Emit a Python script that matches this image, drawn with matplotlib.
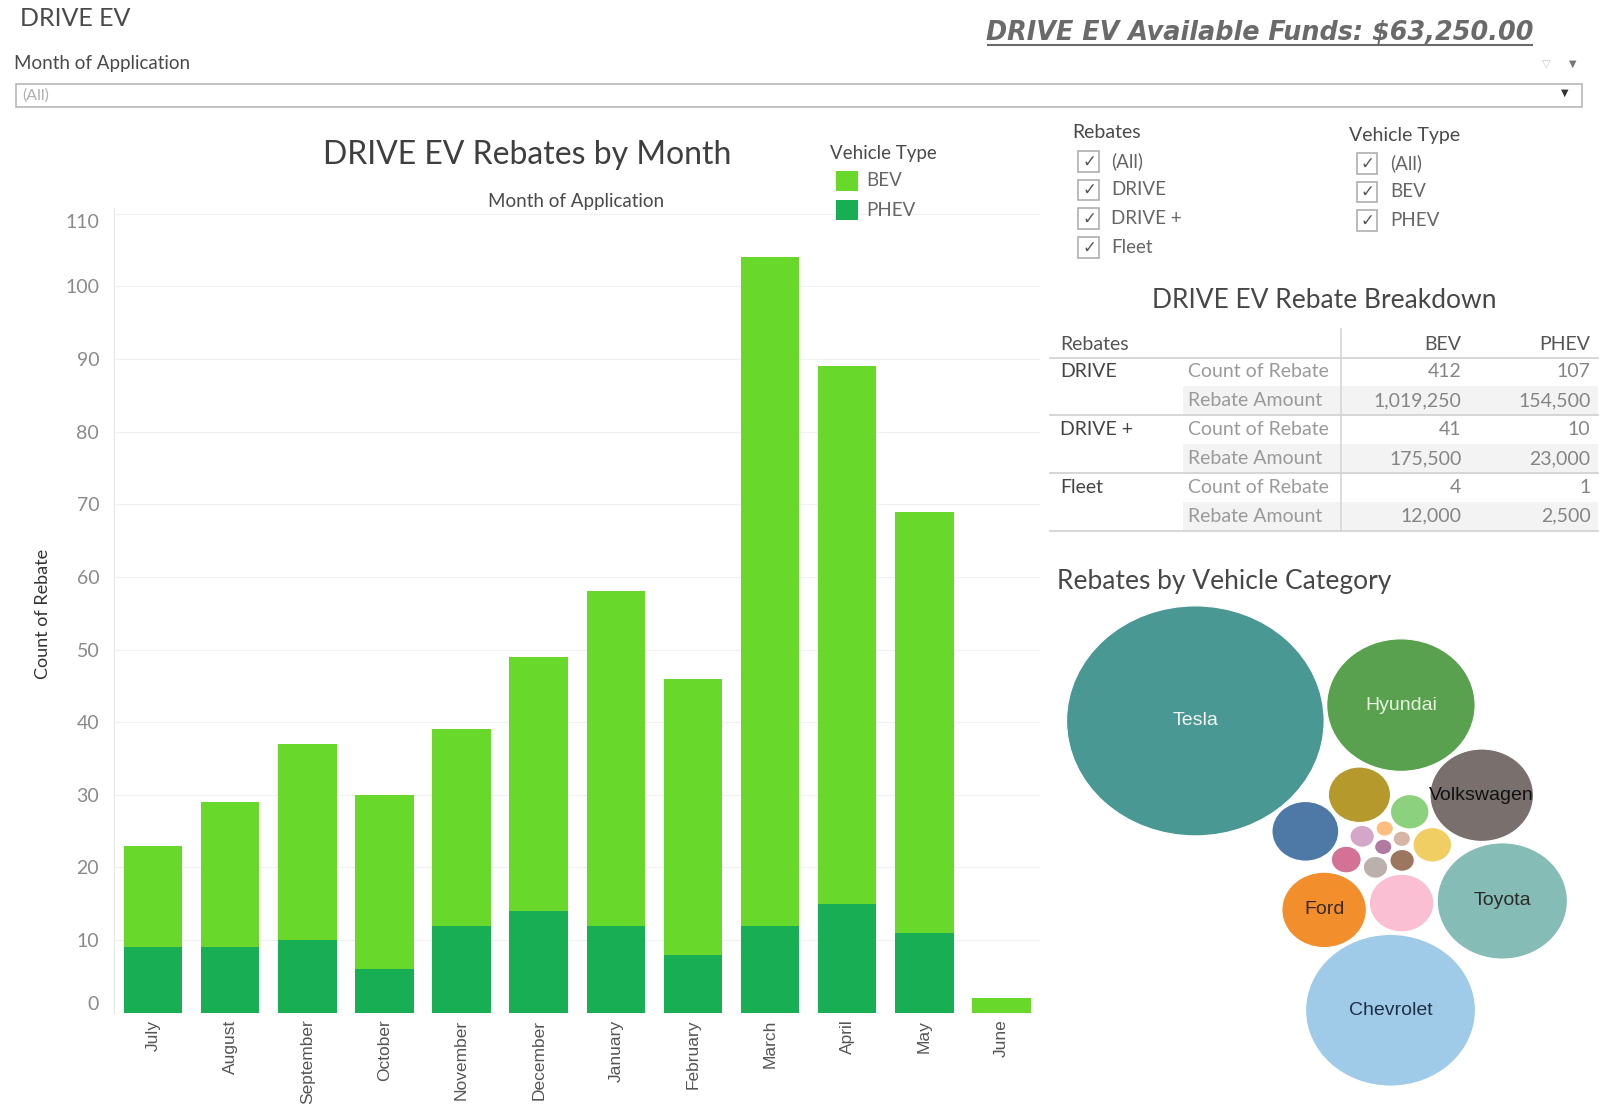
import numpy as np
import matplotlib
matplotlib.use("Agg")
import matplotlib.pyplot as plt
from matplotlib.patches import Rectangle, Ellipse

W, H = 1606, 1108

# -------------------------
# Data
# -------------------------
months = ["July", "August", "September", "October", "November", "December",
          "January", "February", "March", "April", "May", "June"]
phev_counts = [9, 9, 10, 6, 12, 14, 12, 8, 12, 15, 11, 0]
bev_counts = [14, 20, 27, 24, 27, 35, 46, 38, 92, 74, 58, 2]
y_ticks = list(range(0, 111, 10))

rebate_filters = ["(All)", "DRIVE", "DRIVE +", "Fleet"]
vehicle_filters = ["(All)", "BEV", "PHEV"]

table_rebates = ["DRIVE", "DRIVE +", "Fleet"]
bev_rebate_count = [412, 41, 4]
phev_rebate_count = [107, 10, 1]
bev_rebate_amount = [1019250, 175500, 12000]
phev_rebate_amount = [154500, 23000, 2500]

available_funds = 63250.00

# vehicle makes, biggest first; small ones have no label in the dashboard
make_names = ["Tesla", "Chevrolet", "Hyundai", "Toyota", "Volkswagen", "Ford",
              "", "", "", "", "", "", "", "", "", "", "", ""]
make_counts = [223, 97, 74, 57, 36, 24, 15, 14, 13, 5, 5, 3, 2, 2, 2, 1, 1, 1]

# -------------------------
# Styles
# -------------------------
BEV_GREEN = "#68D82B"
PHEV_GREEN = "#18AE54"
make_colors = ["#499894", "#A0CBE8", "#59A14F", "#86BCB6", "#79706E", "#F28E2B",
               "#4E79A7", "#FABFD2", "#B6992D", "#8CD17D", "#F1CE63", "#D37295",
               "#9D7660", "#D4A6C8", "#BAB0AC", "#B07AA1", "#FFBE7D", "#D7B5A6"]
label_colors = {"Tesla": "#f4f4f4", "Hyundai": "#e4f3dc", "Toyota": "#2b2b2b",
                "Ford": "#3a2a1a", "Chevrolet": "#1d3047", "Volkswagen": "#111111"}

plt.rcParams['font.family'] = ['Lato', 'DejaVu Sans']


def pack_circles(radii):
    """Greedy packing: each circle touches two placed ones, as near the origin as possible."""
    pos = [np.array([0.0, 0.0]), np.array([radii[0] + radii[1], 0.0])]
    for k in range(2, len(radii)):
        r = radii[k]
        placed = np.array(pos)
        rad = radii[:k]
        target = np.array([1e-3, 1e-3])
        best, best_d = None, np.inf
        for i in range(k):
            for j in range(i + 1, k):
                p1, p2 = placed[i], placed[j]
                d = np.linalg.norm(p2 - p1)
                a, b = rad[i] + r, rad[j] + r
                if d == 0 or d > a + b or d < abs(a - b):
                    continue
                xx = (a ** 2 - b ** 2 + d ** 2) / (2 * d)
                h = np.sqrt(max(a ** 2 - xx ** 2, 0))
                u = (p2 - p1) / d
                perp = np.array([-u[1], u[0]])
                for s in (1, -1):
                    c = p1 + u * xx + s * h * perp
                    if np.all(np.linalg.norm(placed - c, axis=1) >= rad + r - 1e-6):
                        dd = np.linalg.norm(c - target)
                        if dd < best_d:
                            best, best_d = c, dd
        pos.append(best)
    return np.array(pos)


def wrap(a):
    return (a + np.pi) % (2 * np.pi) - np.pi


fig = plt.figure(figsize=(W / 100, H / 100), dpi=100)
fig.patch.set_facecolor("white")

# -------------------------
# Bar chart
# -------------------------
ax_left, ax_right, ax_top, ax_bottom = 114.5, 1040, 208, 1012.7
ax = fig.add_axes([ax_left / W, 1 - ax_bottom / H,
                   (ax_right - ax_left) / W, (ax_bottom - ax_top) / H])
x = np.arange(len(months))
ax.bar(x, phev_counts, width=0.76, color=PHEV_GREEN, zorder=2)
ax.bar(x, bev_counts, width=0.76, bottom=phev_counts, color=BEV_GREEN, zorder=2)
ax.set_xlim(-0.5, len(months) - 0.5)
ax.set_ylim(0, 110.8)
ax.set_yticks(y_ticks, labels=[str(t) for t in y_ticks])
ax.set_xticks(x, labels=months)
ax.tick_params(axis="y", length=0, pad=11, labelsize=14, labelcolor="#8a8a8a")
ax.tick_params(axis="x", length=0, pad=5, labelsize=12.5, labelcolor="#555555",
               labelrotation=90)
for lab in ax.get_xticklabels():
    lab.set_fontfamily("Liberation Sans")
ylabs = ax.get_yticklabels()
ylabs[0].set_verticalalignment("bottom")
ylabs[-1].set_verticalalignment("top")
ax.grid(axis="y", color="#f1f1f1", lw=0.9, zorder=0)
for s in ["top", "right", "bottom"]:
    ax.spines[s].set_visible(False)
ax.spines["left"].set_color("#e6e6e6")

# -------------------------
# Overlay in pixel coordinates for the dashboard furniture
# -------------------------
ov = fig.add_axes([0, 0, 1, 1])
ov.set_xlim(0, W)
ov.set_ylim(H, 0)
ov.axis("off")

ov.text(20, 19, "DRIVE EV", fontsize=18, color="#4a4a4a", va="center")
funds = ov.text(986, 33, f"DRIVE EV Available Funds: ${available_funds:,.2f}",
                fontsize=18.4, fontweight="bold", fontstyle="italic",
                family="DejaVu Sans", color="#6a6a6a", va="center")

ov.text(14, 63.5, "Month of Application", fontsize=13.5, color="#4a4a4a", va="center")
ov.add_patch(Rectangle((16, 84), 1566, 22.5, facecolor="white", edgecolor="#b8b8b8", lw=1.2))
ov.text(22, 95.5, "(All)", fontsize=11.5, color="#b0b0b0", va="center")
ov.text(1565, 93, "\u25BC", fontsize=7, color="#333333", ha="center", va="center",
        family="DejaVu Sans")
ov.text(1546, 63.5, "\u25BD", fontsize=8, color="#c8c8c8", ha="center", va="center",
        family="DejaVu Sans")
ov.text(1573, 63.5, "\u25BC", fontsize=7, color="#777777", ha="center", va="center",
        family="DejaVu Sans")

# chart titles and legend
ov.text(527, 155, "DRIVE EV Rebates by Month", fontsize=23, color="#3f3f3f",
        ha="center", va="center")
ov.text(576, 202, "Month of Application", fontsize=13.5, color="#4a4a4a",
        ha="center", va="center")
ov.text(43, 614, "Count of Rebate", fontsize=13, color="#333333", rotation=90,
        ha="center", va="center")

ov.text(830, 154, "Vehicle Type", fontsize=13.5, color="#4a4a4a", va="center")
for i, (name, col) in enumerate([("BEV", BEV_GREEN), ("PHEV", PHEV_GREEN)]):
    yc = 181 + i * 29
    ov.add_patch(Rectangle((836, yc - 10), 22.5, 20, facecolor=col, edgecolor="none"))
    ov.text(866, yc, name, fontsize=13.5, color="#666666", va="center")


# filter check boxes
def checkbox_list(title, items, x_box, x_title, y_title, y0):
    ov.text(x_title, y_title, title, fontsize=14, color="#4a4a4a", va="center")
    for i, item in enumerate(items):
        yc = y0 + i * 28.7
        ov.add_patch(Rectangle((x_box, yc - 10), 20.5, 20.5, facecolor="white",
                               edgecolor="#a8a8a8", lw=1.1))
        ov.text(x_box + 10.5, yc + 0.5, "\u2713", fontsize=12, color="#555555",
                ha="center", va="center", family="DejaVu Sans")
        ov.text(x_box + 33, yc, item, fontsize=13.5, color="#666666", va="center")


checkbox_list("Rebates", rebate_filters, 1078.5, 1072, 133, 161)
checkbox_list("Vehicle Type", vehicle_filters, 1357, 1349, 135, 163)

# -------------------------
# Breakdown table
# -------------------------
ov.text(1324, 301, "DRIVE EV Rebate Breakdown", fontsize=19, color="#474747",
        ha="center", va="center")
t_left, t_right, t_mid, t_sep = 1050, 1598, 1341, 1183
row_h = 28.85
head_y, head_line = 344, 357.5
col_bev, col_phev = 1461.5, 1590.5
ov.text(1060, head_y, "Rebates", fontsize=14, color="#555555", va="center")
ov.text(col_bev, head_y, "BEV", fontsize=14, color="#555555", va="center", ha="right")
ov.text(col_phev, head_y, "PHEV", fontsize=14, color="#555555", va="center", ha="right")
ov.plot([t_left, t_right], [head_line, head_line], color="#cfcfcf", lw=1.2)
for g, name in enumerate(table_rebates):
    top = head_line + g * 2 * row_h
    ov.add_patch(Rectangle((t_sep, top + row_h), t_right - t_sep, row_h,
                           facecolor="#f3f3f3", edgecolor="none", zorder=0))
    ov.text(1060, top + row_h / 2, name, fontsize=14, color="#444444", va="center")
    ov.text(1188, top + row_h / 2, "Count of Rebate", fontsize=14, color="#9a9a9a", va="center")
    ov.text(1188, top + 1.5 * row_h, "Rebate Amount", fontsize=14, color="#9a9a9a", va="center")
    ov.text(col_bev, top + row_h / 2, f"{bev_rebate_count[g]:,}", fontsize=14,
            color="#858585", va="center", ha="right")
    ov.text(col_phev, top + row_h / 2, f"{phev_rebate_count[g]:,}", fontsize=14,
            color="#858585", va="center", ha="right")
    ov.text(col_bev, top + 1.5 * row_h, f"{bev_rebate_amount[g]:,}", fontsize=14,
            color="#858585", va="center", ha="right")
    ov.text(col_phev, top + 1.5 * row_h, f"{phev_rebate_amount[g]:,}", fontsize=14,
            color="#858585", va="center", ha="right")
    bottom = top + 2 * row_h
    ov.plot([t_left, t_right], [bottom, bottom], color="#cfcfcf", lw=1.2)
ov.plot([t_mid, t_mid], [329, head_line + 6 * row_h], color="#d6d6d6", lw=1.2)

# -------------------------
# Packed bubbles (small ones packed first so they sit in the core)
# -------------------------
ov.text(1057, 581, "Rebates by Vehicle Category", fontsize=19, color="#474747", va="center")

k_size = 7.7
stretch = 1.12
radii = k_size * np.sqrt(np.array(make_counts, dtype=float))
order = np.argsort(make_counts, kind="stable")
packed = pack_circles(radii[order] + 1.5)
centers = np.empty_like(packed)
centers[order] = packed

# turn the cluster so the biggest bubble sits top-left and the second below
mid = np.array([((centers[:, 0] - radii).min() + (centers[:, 0] + radii).max()) / 2,
                ((centers[:, 1] - radii).min() + (centers[:, 1] + radii).max()) / 2])
rel = centers - mid
want_first, want_second = np.deg2rad(130), np.deg2rad(-95)
rot = want_first - np.arctan2(rel[0, 1], rel[0, 0])
rm = np.array([[np.cos(rot), -np.sin(rot)], [np.sin(rot), np.cos(rot)]])
rel = rel @ rm.T
mirror = np.array([[np.cos(2 * want_first), np.sin(2 * want_first)],
                   [np.sin(2 * want_first), -np.cos(2 * want_first)]])
rel_m = rel @ mirror.T
if abs(wrap(np.arctan2(rel_m[1, 1], rel_m[1, 0]) - want_second)) < \
        abs(wrap(np.arctan2(rel[1, 1], rel[1, 0]) - want_second)):
    rel = rel_m

cx = rel[:, 0] * stretch
cy = -rel[:, 1]
x0, x1 = (cx - radii * stretch).min(), (cx + radii * stretch).max()
y0, y1 = (cy - radii).min(), (cy + radii).max()
cx = cx + 1317 - (x0 + x1) / 2
cy = cy + 846 - (y0 + y1) / 2

for i in range(len(make_counts)):
    e = Ellipse((cx[i], cy[i]), 2 * radii[i] * stretch, 2 * radii[i],
                facecolor=make_colors[i], edgecolor="white", lw=0.8)
    ov.add_patch(e)
    if make_names[i]:
        t = ov.text(cx[i], cy[i], make_names[i], fontsize=14, family="Liberation Sans",
                    color=label_colors[make_names[i]], ha="center", va="center")
        t.set_clip_path(e)

# underline for the funds heading
fig.canvas.draw()
bb = funds.get_window_extent(fig.canvas.get_renderer())
inv = ov.transData.inverted()
(ux0, uy0), (ux1, _) = inv.transform([[bb.x0, bb.y0], [bb.x1, bb.y0]])
ov.plot([ux0 + 2, ux1 - 2], [uy0 - 1, uy0 - 1], color="#6a6a6a", lw=1.5)

fig.savefig("out.png", dpi=100)
